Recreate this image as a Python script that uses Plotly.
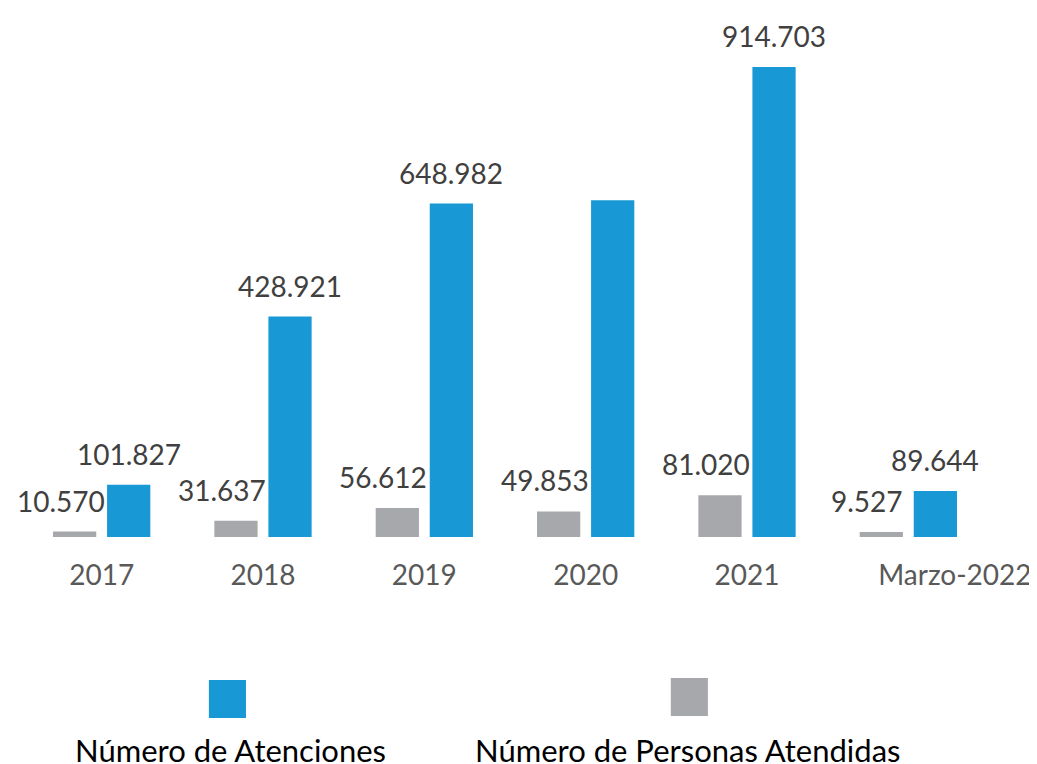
import plotly.graph_objects as go

categories = ["2017", "2018", "2019", "2020", "2021", "Marzo-2022"]
personas = [10570, 31637, 56612, 49853, 81020, 9527]
atenciones = [101827, 428921, 648982, 655300, 914703, 89644]
personas_labels = ["10.570", "31.637", "56.612", "49.853", "81.020", "9.527"]
atenciones_labels = ["101.827", "428.921", "648.982", None, "914.703", "89.644"]

BLUE = "#1899d6"
GRAY = "#a7a8ab"
FONT = "Lato"

fig = go.Figure()
fig.add_trace(go.Bar(x=categories, y=personas, name="Número de Personas Atendidas",
                     marker=dict(color=GRAY, line=dict(width=0))))
fig.add_trace(go.Bar(x=categories, y=atenciones, name="Número de Atenciones",
                     marker=dict(color=BLUE, line=dict(width=0))))

annotations = []
for i, (v, t) in enumerate(zip(personas, personas_labels)):
    if t:
        annotations.append(dict(x=i, y=v, text=t, showarrow=False, xshift=-41, yshift=31,
                                xanchor="center", yanchor="middle",
                                font=dict(family=FONT, size=28, color="#404040")))
for i, (v, t) in enumerate(zip(atenciones, atenciones_labels)):
    if t:
        annotations.append(dict(x=i, y=v, text=t, showarrow=False, xshift=27, yshift=31,
                                xanchor="center", yanchor="middle",
                                font=dict(family=FONT, size=28, color="#404040")))

# custom legend
annotations.append(dict(x=0.2169, y=-0.4286, xref="paper", yref="paper", text="Número de Atenciones",
                        showarrow=False, xanchor="center", yanchor="middle",
                        font=dict(family=FONT, size=31, color="#000000")))
annotations.append(dict(x=0.6894, y=-0.4286, xref="paper", yref="paper", text="Número de Personas Atendidas",
                        showarrow=False, xanchor="center", yanchor="middle",
                        font=dict(family=FONT, size=31, color="#000000")))
shapes = [
    dict(type="rect", xref="paper", yref="paper", x0=0.1941, x1=0.2324, y0=-0.3642, y1=-0.2877,
         fillcolor=BLUE, line=dict(width=0)),
    dict(type="rect", xref="paper", yref="paper", x0=0.6713, x1=0.7096, y0=-0.3602, y1=-0.2837,
         fillcolor=GRAY, line=dict(width=0)),
]

tick_text = categories[:-1] + ["\u00a0" * 13 + categories[-1]]

fig.update_layout(
    width=1037, height=764,
    margin=dict(l=12.8, r=55.7, t=32, b=235, autoexpand=False),
    paper_bgcolor="white", plot_bgcolor="white",
    barmode="group", bargap=0.33, bargroupgap=0.2,
    showlegend=False,
    annotations=annotations, shapes=shapes,
    xaxis=dict(type="category", range=[-0.5, 5.5], autorange=False,
               showline=False, showgrid=False, zeroline=False, ticks="",
               tickvals=categories, ticktext=tick_text, tickangle=0,
               tickfont=dict(family=FONT, size=28, color="#595959"), ticklabelstandoff=19),
    yaxis=dict(visible=False, range=[0, 967250], autorange=False),
)

fig.write_html("out.html")
